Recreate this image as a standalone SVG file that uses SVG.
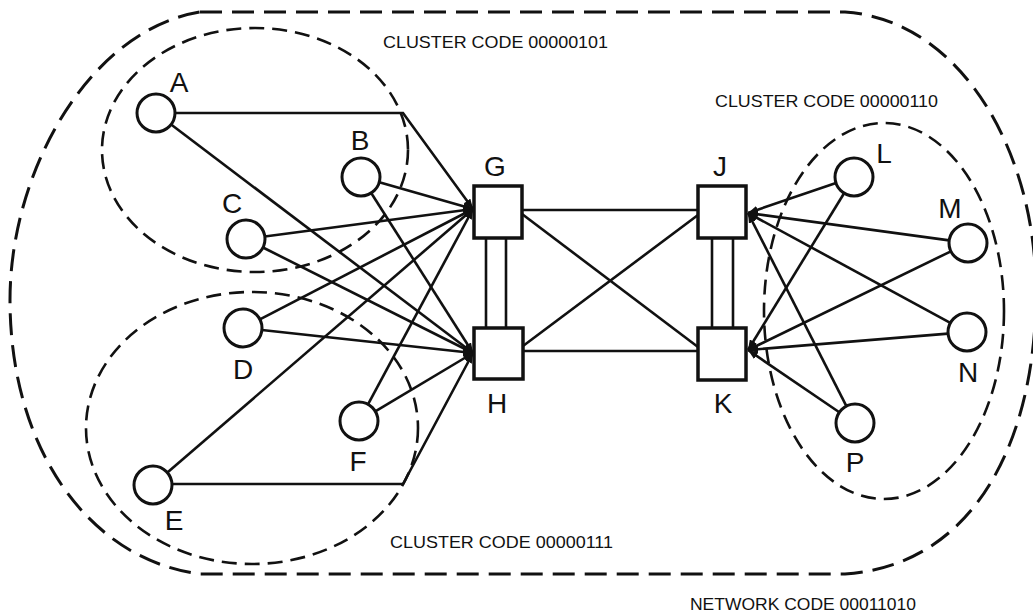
<svg xmlns="http://www.w3.org/2000/svg" width="1033" height="613" viewBox="0 0 1033 613">
<style>
.bg{fill:#fff}
.outer{fill:none;stroke:#111;stroke-width:3;stroke-dasharray:22 10}
.cluster{fill:none;stroke:#111;stroke-width:2.6;stroke-dasharray:15 8}
.node{fill:#fff;stroke:#111;stroke-width:3}
.box{fill:#fff;stroke:#111;stroke-width:3.5}
.edge{fill:none;stroke:#111;stroke-width:2.6;stroke-linejoin:miter}
.arr{fill:none;stroke:#111;stroke-width:2.6;marker-end:url(#ah)}
.lbl{font-family:"Liberation Sans",Arial,sans-serif;font-size:28px;fill:#111;text-anchor:middle}
.code{font-family:"Liberation Sans",Arial,sans-serif;font-size:17px;fill:#111}
</style>
<defs>
<marker id="ah" viewBox="0 0 10 8" refX="10" refY="4" markerWidth="10" markerHeight="8" markerUnits="userSpaceOnUse" orient="auto">
<path d="M0,0 L10,4 L0,8 Z" fill="#111"/>
</marker>
</defs>
<rect class="bg" x="0" y="0" width="1033" height="613"/>

<g id="boundaries">
<path id="network" class="outer" d="M200,12 L845,12 C960,20 1036,150 1036,292 C1036,440 975,565 845,574 L200,574 C90,560 10,450 10,300 C10,170 90,30 200,12 Z"/>
<ellipse id="cluster-00000101" class="cluster" cx="255" cy="150" rx="153" ry="122"/>
<ellipse id="cluster-00000111" class="cluster" cx="252" cy="428" rx="166" ry="136"/>
<ellipse id="cluster-00000110" class="cluster" cx="884" cy="311" rx="120" ry="188"/>
</g>

<g id="connectors">
<polyline class="arr" points="175,113 403,113 473,209"/>
<line class="arr" x1="171.1" y1="124.5" x2="473" y2="353"/>
<line class="arr" x1="379.3" y1="182.2" x2="473" y2="209"/>
<line class="arr" x1="371.2" y1="193" x2="473" y2="353"/>
<line class="arr" x1="264.8" y1="236.5" x2="473" y2="209"/>
<line class="arr" x1="263" y1="247.5" x2="473" y2="353"/>
<line class="arr" x1="259.9" y1="319.3" x2="473" y2="209"/>
<line class="arr" x1="261.9" y1="330" x2="473" y2="353"/>
<line class="arr" x1="167.4" y1="472.6" x2="473" y2="209"/>
<polyline class="arr" points="172,484 403,484 473,353"/>
<line class="arr" x1="368" y1="404.3" x2="473" y2="209"/>
<line class="arr" x1="375.3" y1="411.3" x2="473" y2="353"/>

<line class="arr" x1="836" y1="183.1" x2="748" y2="213"/>
<line class="arr" x1="844.1" y1="193.2" x2="748" y2="350"/>
<line class="arr" x1="949.2" y1="240.4" x2="748" y2="213"/>
<line class="arr" x1="950.9" y1="251.3" x2="748" y2="350"/>
<line class="arr" x1="950.3" y1="322.9" x2="748" y2="213"/>
<line class="arr" x1="948.1" y1="333.6" x2="748" y2="350"/>
<line class="arr" x1="846.4" y1="406.1" x2="748" y2="213"/>
<line class="arr" x1="839.3" y1="412.3" x2="748" y2="350"/>

<line class="edge" x1="522" y1="210" x2="698" y2="210"/>
<line class="edge" x1="523" y1="351" x2="698" y2="351"/>
<line class="edge" x1="522" y1="214" x2="698" y2="347"/>
<line class="edge" x1="698" y1="215" x2="523" y2="346"/>
<line class="edge" x1="486" y1="238" x2="486" y2="329"/>
<line class="edge" x1="506" y1="238" x2="506" y2="329"/>
<line class="edge" x1="712" y1="238" x2="712" y2="329"/>
<line class="edge" x1="733" y1="238" x2="733" y2="329"/>
</g>

<g id="node-A"><circle class="node" cx="156" cy="113" r="19"/><text class="lbl" x="179" y="92">A</text></g>
<g id="node-B"><circle class="node" cx="361" cy="177" r="19"/><text class="lbl" x="360" y="150">B</text></g>
<g id="node-C"><circle class="node" cx="246" cy="239" r="19"/><text class="lbl" x="232" y="213">C</text></g>
<g id="node-D"><circle class="node" cx="243" cy="328" r="19"/><text class="lbl" x="243" y="379">D</text></g>
<g id="node-E"><circle class="node" cx="153" cy="485" r="19"/><text class="lbl" x="174" y="530">E</text></g>
<g id="node-F"><circle class="node" cx="359" cy="421" r="19"/><text class="lbl" x="358" y="471">F</text></g>

<g id="node-G"><rect class="box" x="474" y="186" width="48" height="52"/><text class="lbl" x="495" y="176">G</text></g>
<g id="node-H"><rect class="box" x="474" y="328" width="49" height="51"/><text class="lbl" x="497" y="413">H</text></g>
<g id="node-J"><rect class="box" x="698" y="186" width="48" height="52"/><text class="lbl" x="720" y="176">J</text></g>
<g id="node-K"><rect class="box" x="698" y="328" width="48" height="52"/><text class="lbl" x="723" y="413">K</text></g>

<g id="node-L"><circle class="node" cx="854" cy="177" r="19"/><text class="lbl" x="884" y="163">L</text></g>
<g id="node-M"><circle class="node" cx="968" cy="243" r="19"/><text class="lbl" x="950" y="218">M</text></g>
<g id="node-N"><circle class="node" cx="967" cy="332" r="19"/><text class="lbl" x="968" y="382">N</text></g>
<g id="node-P"><circle class="node" cx="855" cy="423" r="19"/><text class="lbl" x="855" y="472">P</text></g>

<g id="labels">
<text class="code" x="383" y="48" textLength="225" lengthAdjust="spacingAndGlyphs">CLUSTER CODE 00000101</text>
<text class="code" x="715" y="107" textLength="223" lengthAdjust="spacingAndGlyphs">CLUSTER CODE 00000110</text>
<text class="code" x="390" y="548" textLength="223" lengthAdjust="spacingAndGlyphs">CLUSTER CODE 00000111</text>
<text class="code" x="690" y="610" textLength="226" lengthAdjust="spacingAndGlyphs">NETWORK CODE 00011010</text>
</g>
</svg>
